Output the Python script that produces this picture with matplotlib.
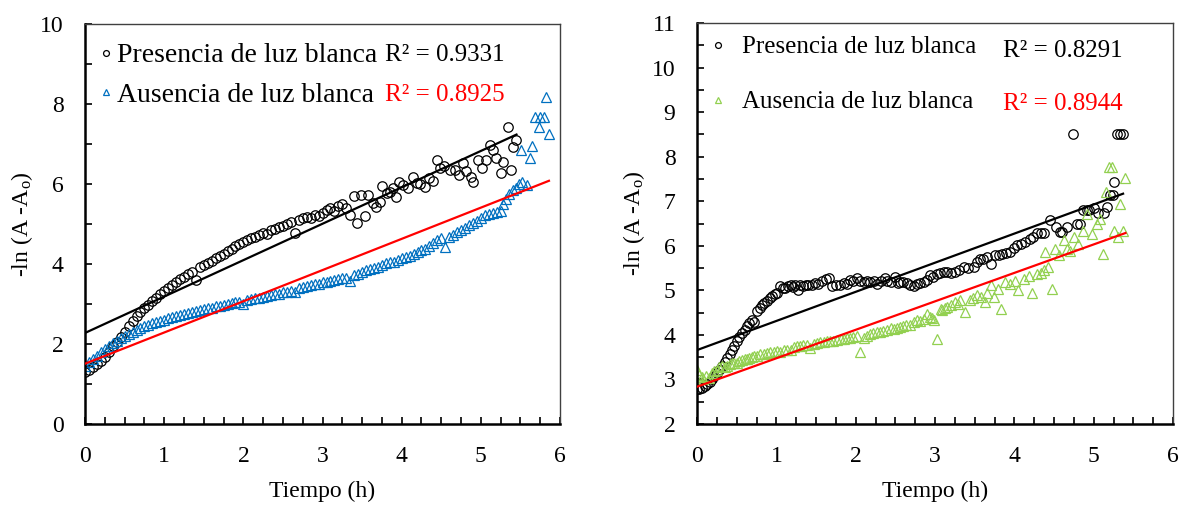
import matplotlib.pyplot as plt
from matplotlib.ticker import MultipleLocator
import numpy as np

plt.rcParams['font.family'] = 'Liberation Serif'
plt.rcParams['mathtext.fontset'] = 'custom'
plt.rcParams['mathtext.rm'] = 'Liberation Serif'
plt.rcParams['mathtext.it'] = 'Liberation Serif:italic'

# ---- left panel data ----
t_pres_a = [0.00, 0.05, 0.10, 0.15, 0.20, 0.25, 0.30, 0.35, 0.40, 0.45, 0.50, 0.55, 0.60, 0.65, 0.70,
            0.75, 0.80, 0.85, 0.90, 0.95, 1.00, 1.05, 1.10, 1.15, 1.20, 1.25, 1.30, 1.35, 1.40, 1.45,
            1.50, 1.55, 1.60, 1.65, 1.70, 1.75, 1.80, 1.85, 1.90, 1.95, 2.00, 2.05, 2.10, 2.15, 2.20,
            2.25, 2.30, 2.35, 2.40, 2.45, 2.50, 2.55, 2.60, 2.65, 2.70, 2.75, 2.80, 2.85, 2.90, 2.95,
            3.00, 3.05, 3.10, 3.15, 3.20, 3.25, 3.30, 3.35, 3.40, 3.44, 3.49, 3.54, 3.58, 3.64, 3.68,
            3.72, 3.75, 3.81, 3.85, 3.89, 3.93, 3.97, 4.02, 4.08, 4.14, 4.19, 4.23, 4.29, 4.34, 4.40,
            4.45, 4.48, 4.54, 4.61, 4.67, 4.72, 4.77, 4.81, 4.87, 4.90, 4.96, 5.02, 5.06, 5.11, 5.15,
            5.19, 5.26, 5.28, 5.34, 5.38, 5.41, 5.45]
y_pres_a = [1.30, 1.35, 1.42, 1.50, 1.58, 1.68, 1.80, 1.94, 2.06, 2.18, 2.30, 2.45, 2.58, 2.70, 2.80,
            2.90, 2.98, 3.08, 3.16, 3.24, 3.32, 3.40, 3.48, 3.56, 3.62, 3.68, 3.74, 3.80, 3.60, 3.92,
            3.98, 4.03, 4.08, 4.14, 4.20, 4.26, 4.32, 4.38, 4.44, 4.50, 4.56, 4.60, 4.64, 4.68, 4.72,
            4.78, 4.76, 4.84, 4.88, 4.92, 4.96, 5.00, 5.04, 4.77, 5.10, 5.14, 5.18, 5.16, 5.22, 5.20,
            5.28, 5.35, 5.40, 5.32, 5.45, 5.50, 5.40, 5.22, 5.70, 5.03, 5.73, 5.21, 5.73, 5.52, 5.43,
            5.56, 5.96, 5.77, 5.81, 5.89, 5.68, 6.06, 5.98, 5.89, 6.17, 6.02, 6.00, 5.93, 6.14, 6.08,
            6.60, 6.39, 6.45, 6.35, 6.35, 6.22, 6.52, 6.33, 6.18, 6.06, 6.60, 6.39, 6.60, 6.97, 6.85,
            6.64, 6.27, 6.56, 7.42, 6.35, 6.93, 7.10]

t_aus_a = [0.00, 0.05, 0.10, 0.15, 0.20, 0.25, 0.30, 0.35, 0.40, 0.45, 0.50, 0.55, 0.60, 0.65, 0.70,
           0.75, 0.80, 0.85, 0.90, 0.95, 1.00, 1.05, 1.10, 1.15, 1.20, 1.25, 1.30, 1.35, 1.40, 1.45,
           1.50, 1.55, 1.60, 1.65, 1.70, 1.75, 1.80, 1.85, 1.90, 1.95, 2.00, 2.05, 2.10, 2.15, 2.20,
           2.25, 2.30, 2.35, 2.40, 2.45, 2.50, 2.55, 2.60, 2.65, 2.70, 2.75, 2.80, 2.85, 2.90, 2.95,
           3.00, 3.05, 3.10, 3.15, 3.20, 3.25, 3.30, 3.35, 3.40, 3.45, 3.50, 3.55, 3.60, 3.65, 3.70,
           3.75, 3.80, 3.85, 3.90, 3.95, 4.00, 4.05, 4.10, 4.15, 4.20, 4.25, 4.30, 4.35, 4.40, 4.45,
           4.50, 4.55, 4.60, 4.65, 4.70, 4.75, 4.80, 4.85, 4.90, 4.95, 5.00, 5.05, 5.10, 5.15, 5.20,
           5.25, 5.28, 5.32, 5.36, 5.40, 5.44, 5.48, 5.52, 5.58, 5.51, 5.62, 5.65, 5.68, 5.74, 5.75,
           5.80, 5.82, 5.86]
y_aus_a = [1.45, 1.55, 1.63, 1.71, 1.79, 1.88, 1.95, 2.02, 2.08, 2.14, 2.20, 2.25, 2.30, 2.35, 2.40,
           2.44, 2.48, 2.52, 2.55, 2.58, 2.61, 2.64, 2.67, 2.70, 2.72, 2.75, 2.77, 2.80, 2.82, 2.85,
           2.87, 2.89, 2.91, 2.94, 2.96, 2.98, 3.00, 3.02, 3.04, 3.06, 3.00, 3.10, 3.12, 3.14, 3.16,
           3.18, 3.20, 3.22, 3.24, 3.26, 3.29, 3.31, 3.33, 3.30, 3.40, 3.42, 3.44, 3.47, 3.49, 3.51,
           3.55, 3.56, 3.58, 3.60, 3.62, 3.64, 3.66, 3.57, 3.72, 3.76, 3.80, 3.84, 3.88, 3.90, 3.93,
           3.97, 4.02, 4.04, 4.06, 4.10, 4.14, 4.17, 4.19, 4.24, 4.30, 4.34, 4.38, 4.45, 4.52, 4.60,
           4.66, 4.42, 4.68, 4.72, 4.80, 4.85, 4.90, 4.97, 5.02, 5.08, 5.15, 5.22, 5.25, 5.28, 5.30,
           5.32, 5.50, 5.62, 5.75, 5.85, 5.90, 6.00, 6.06, 5.98, 6.85, 6.64, 6.95, 7.67, 7.42, 7.67,
           7.67, 8.17, 7.25]

# ---- right panel data ----
t_pres_b = [0.00, 0.03, 0.06, 0.10, 0.13, 0.16, 0.19, 0.22, 0.25, 0.28, 0.32, 0.35, 0.38, 0.41, 0.44,
            0.47, 0.50, 0.53, 0.57, 0.60, 0.63, 0.66, 0.69, 0.72, 0.76, 0.79, 0.82, 0.85, 0.88, 0.92,
            0.95, 0.98, 1.01, 1.05, 1.08, 1.11, 1.15, 1.18, 1.21, 1.24, 1.27, 1.30, 1.34, 1.37, 1.40,
            1.45, 1.49, 1.53, 1.58, 1.62, 1.66, 1.70, 1.75, 1.80, 1.85, 1.89, 1.93, 1.97, 2.02, 2.06,
            2.10, 2.14, 2.18, 2.23, 2.27, 2.32, 2.37, 2.40, 2.44, 2.50, 2.53, 2.56, 2.60, 2.65, 2.69,
            2.73, 2.77, 2.81, 2.86, 2.90, 2.94, 2.98, 3.02, 3.06, 3.11, 3.15, 3.20, 3.25, 3.30, 3.36,
            3.42, 3.49, 3.53, 3.57, 3.61, 3.65, 3.70, 3.76, 3.80, 3.84, 3.90, 3.95, 3.99, 4.03, 4.08,
            4.14, 4.20, 4.24, 4.28, 4.33, 4.37, 4.45, 4.52, 4.58, 4.60, 4.66, 4.74, 4.79, 4.83, 4.87,
            4.91, 4.94, 5.00, 5.06, 5.13, 5.17, 5.21, 5.24, 5.26, 5.29, 5.33, 5.37]
y_pres_b = [2.78, 2.78, 2.81, 2.85, 2.89, 2.94, 3.00, 3.07, 3.15, 3.22, 3.30, 3.40, 3.49, 3.58, 3.67,
            3.76, 3.86, 3.95, 4.04, 4.12, 4.19, 4.26, 4.34, 4.30, 4.53, 4.60, 4.68, 4.72, 4.75, 4.82,
            4.87, 4.91, 4.94, 5.10, 5.05, 5.05, 5.09, 5.12, 5.08, 5.13, 5.01, 5.13, 5.10, 5.13, 5.12,
            5.13, 5.16, 5.14, 5.22, 5.25, 5.28, 5.10, 5.13, 5.12, 5.16, 5.14, 5.24, 5.20, 5.28, 5.20,
            5.18, 5.20, 5.18, 5.20, 5.15, 5.22, 5.28, 5.20, 5.18, 5.31, 5.16, 5.19, 5.18, 5.16, 5.12,
            5.10, 5.14, 5.16, 5.19, 5.24, 5.34, 5.31, 5.36, 5.38, 5.41, 5.41, 5.38, 5.41, 5.46, 5.52,
            5.50, 5.52, 5.64, 5.71, 5.71, 5.75, 5.60, 5.79, 5.80, 5.82, 5.84, 5.86, 5.95, 6.01, 6.05,
            6.09, 6.16, 6.20, 6.28, 6.28, 6.28, 6.57, 6.43, 6.30, 6.32, 6.43, 8.52, 6.50, 6.50, 6.80,
            6.80, 6.80, 6.84, 6.73, 6.73, 6.88, 7.14, 7.14, 7.43, 8.52, 8.52, 8.52]

t_aus_b = [0.00, 0.03, 0.06, 0.08, 0.11, 0.15, 0.19, 0.22, 0.25, 0.28, 0.32, 0.35, 0.38, 0.41, 0.44,
           0.47, 0.50, 0.53, 0.57, 0.60, 0.63, 0.66, 0.69, 0.72, 0.76, 0.80, 0.84, 0.88, 0.92, 0.97,
           1.01, 1.05, 1.09, 1.13, 1.18, 1.22, 1.26, 1.30, 1.34, 1.38, 1.43, 1.47, 1.51, 1.55, 1.60,
           1.64, 1.68, 1.72, 1.76, 1.81, 1.85, 1.89, 1.93, 1.97, 2.02, 2.06, 2.10, 2.14, 2.18, 2.22,
           2.27, 2.31, 2.35, 2.39, 2.44, 2.48, 2.52, 2.56, 2.60, 2.64, 2.69, 2.73, 2.77, 2.81, 2.86,
           2.90, 2.94, 2.96, 2.99, 3.03, 3.07, 3.09, 3.12, 3.15, 3.20, 3.25, 3.29, 3.32, 3.38, 3.44,
           3.48, 3.53, 3.58, 3.63, 3.66, 3.70, 3.74, 3.79, 3.83, 3.88, 3.95, 4.01, 4.05, 4.12, 4.18,
           4.22, 4.28, 4.33, 4.37, 4.39, 4.43, 4.47, 4.51, 4.56, 4.62, 4.66, 4.70, 4.75, 4.80, 4.87,
           4.92, 4.98, 5.04, 5.08, 5.12, 5.15, 5.19, 5.23, 5.26, 5.30, 5.33, 5.37, 5.40]
y_aus_b = [3.22, 3.10, 3.05, 3.00, 3.07, 3.04, 3.15, 3.20, 3.22, 3.27, 3.30, 3.28, 3.31, 3.34, 3.36,
           3.38, 3.37, 3.41, 3.43, 3.45, 3.47, 3.49, 3.50, 3.52, 3.52, 3.56, 3.58, 3.60, 3.61, 3.62,
           3.63, 3.62, 3.65, 3.67, 3.67, 3.72, 3.75, 3.74, 3.78, 3.77, 3.71, 3.80, 3.82, 3.83, 3.84,
           3.86, 3.86, 3.87, 3.88, 3.90, 3.90, 3.92, 3.93, 3.95, 3.97, 3.62, 3.93, 3.98, 4.01, 4.04,
           4.06, 4.06, 4.08, 4.12, 4.16, 4.14, 4.16, 4.18, 4.19, 4.22, 4.23, 4.28, 4.33, 4.31, 4.36,
           4.46, 4.40, 4.37, 4.33, 3.91, 4.57, 4.56, 4.60, 4.63, 4.66, 4.74, 4.70, 4.78, 4.52, 4.78,
           4.82, 4.89, 4.85, 4.74, 4.95, 5.11, 4.85, 5.04, 4.59, 5.19, 5.15, 5.22, 5.00, 5.26, 5.33,
           4.93, 5.37, 5.40, 5.45, 5.86, 5.52, 5.04, 5.93, 5.80, 6.12, 5.92, 5.89, 6.19, 6.05, 6.34,
           6.72, 6.27, 6.49, 6.60, 5.82, 7.20, 7.76, 7.76, 6.34, 6.19, 6.94, 6.34, 7.52]

labels = ['Presencia de luz blanca', 'Ausencia de luz blanca']
r2_left = ['R² = 0.9331', 'R² = 0.8925']
r2_right = ['R² = 0.8291', 'R² = 0.8944']

BLUE = '#0070C0'
GREEN = '#92D050'
RED = '#FF0000'


def trend(ax, t, y, color):
    k, b = np.polyfit(t, y, 1)
    xs = np.array([0, max(t)])
    ax.plot(xs, k * xs + b, color=color, lw=1.6, zorder=3)


def style(ax, ymin, ymax, ylab_step, ytick_step):
    ax.set_xlim(0, 6)
    ax.set_ylim(ymin, ymax)
    ax.xaxis.set_major_locator(MultipleLocator(1))
    ax.xaxis.set_minor_locator(MultipleLocator(0.25))
    ax.yaxis.set_major_locator(MultipleLocator(ylab_step))
    ax.yaxis.set_minor_locator(MultipleLocator(ytick_step))
    ax.tick_params(which='both', direction='in', length=5, width=1.2,
                   labelsize=17, pad=15.5)
    for s in ['left', 'bottom']:
        ax.spines[s].set_linewidth(1.8)
        ax.spines[s].set_color('black')
    for s in ['top', 'right']:
        ax.spines[s].set_linewidth(1.0)
        ax.spines[s].set_color('#404040')
    ax.set_xlabel('Tiempo (h)', fontsize=17, labelpad=10.5)
    ax.set_ylabel(r'-ln (A -A$_\mathrm{o}$)', fontsize=17, labelpad=3.5)


fig = plt.figure(figsize=(11.83, 5.05), dpi=100)
ax1 = fig.add_axes([0.0719, 0.1604, 0.4015, 0.792])
ax2 = fig.add_axes([0.5892, 0.1604, 0.4024, 0.794])

# left
h1, = ax1.plot(t_pres_a, y_pres_a, 'o', mfc='none', mec='black', ms=6.8, mew=0.9, label=labels[0])
h2, = ax1.plot(t_aus_a, y_aus_a, '^', mfc='none', mec=BLUE, ms=6.8, mew=0.9, label=labels[1])
trend(ax1, t_pres_a, y_pres_a, 'black')
trend(ax1, t_aus_a, y_aus_a, RED)
style(ax1, 0, 10, 2, 1)
ax1.legend(handles=[h1, h2], loc='upper left', bbox_to_anchor=(0.027, 0.953), frameon=False,
           fontsize=20, markerscale=0.62, handlelength=0.6, handletextpad=0.1,
           labelspacing=0.5, borderaxespad=0, borderpad=0)
ax1.text(0.632, 0.922, r2_left[0], transform=ax1.transAxes, fontsize=18, va='center')
ax1.text(0.632, 0.822, r2_left[1], transform=ax1.transAxes, fontsize=18, va='center', color=RED)

# right
g1, = ax2.plot(t_pres_b, y_pres_b, 'o', mfc='none', mec='black', ms=6.8, mew=0.9, label=labels[0])
g2, = ax2.plot(t_aus_b, y_aus_b, '^', mfc='none', mec=GREEN, ms=6.8, mew=0.9, label=labels[1])
trend(ax2, t_pres_b, y_pres_b, 'black')
trend(ax2, t_aus_b, y_aus_b, RED)
style(ax2, 2, 11, 1, 0.5)
ax2.legend(handles=[g1, g2], loc='upper left', bbox_to_anchor=(0.028, 0.968), frameon=False,
           fontsize=18, markerscale=0.62, handlelength=0.6, handletextpad=0.66,
           labelspacing=1.3, borderaxespad=0, borderpad=0)
ax2.text(0.643, 0.93, r2_right[0], transform=ax2.transAxes, fontsize=18, va='center')
ax2.text(0.643, 0.798, r2_right[1], transform=ax2.transAxes, fontsize=18, va='center', color=RED)

fig.savefig('out.png', dpi=100)
